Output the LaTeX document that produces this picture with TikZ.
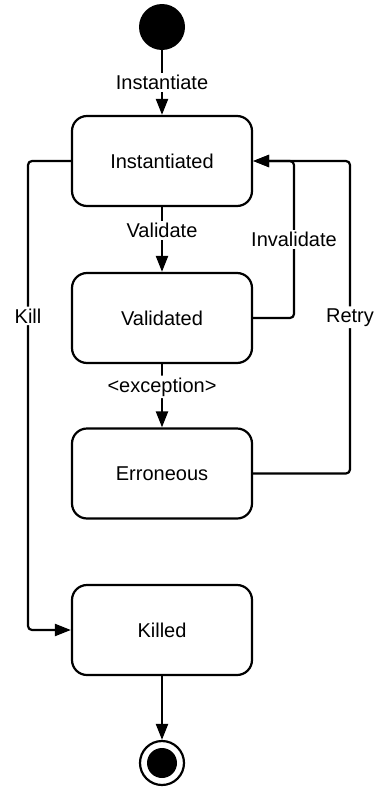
\documentclass[tikz,border=0pt]{standalone}
\usepackage{fontspec}
\setmainfont{Liberation Sans}
\usetikzlibrary{arrows.meta}
\begin{document}
\begin{tikzpicture}[x=1pt,y=-1pt,
  every node/.style={font=\fontsize{20}{23}\selectfont},
  state/.style={draw,line width=2.2pt,rounded corners=15pt,minimum width=180pt,minimum height=90pt,inner sep=0pt},
  conn/.style={line width=2.2pt,-{Triangle[length=16pt,width=12pt]},rounded corners=4pt},
  lbl/.style={fill=white,inner sep=2pt}]
\useasboundingbox (0,0) rectangle (376,787);
\node[circle,fill=black,minimum size=46pt,inner sep=0pt] (start) at (162,27) {};
\node[state] (inst) at (162,161) {Instantiated};
\node[state] (val) at (162,318) {Validated};
\node[state] (err) at (162,473.5) {Erroneous};
\node[state] (kill) at (162,630) {Killed};
\node[circle,draw,line width=2.2pt,minimum size=44pt,inner sep=0pt] (end) at (162,763) {};
\node[circle,fill=black,minimum size=30pt,inner sep=0pt] (endin) at (162,763) {};
\coordinate (kl) at (28,161);
\coordinate (kb) at (28,630);
\coordinate (iv1) at (294,318);
\coordinate (iv2) at (294,161);
\coordinate (rt1) at (350,473.5);
\coordinate (rt2) at (350,161);
\draw[conn] (start) -- node[lbl,pos=0.5] {Instantiate} (inst);
\draw[conn] (inst) -- node[lbl,pos=0.36] {Validate} (val);
\draw[conn] (val) -- node[lbl,pos=0.36] {<exception>} (err);
\draw[conn] (kill) -- (end);
\draw[conn] (inst.west) -- (kl) -- node[lbl,pos=0.33] {Kill} (kb) -- (kill.west);
\draw[conn] (val.east) -- (iv1) -- node[lbl,pos=0.5] {Invalidate} (iv2) -- (inst.east);
\draw[conn] (err.east) -- (rt1) -- node[lbl,pos=0.5] {Retry} (rt2) -- (inst.east);
\end{tikzpicture}
\end{document}
